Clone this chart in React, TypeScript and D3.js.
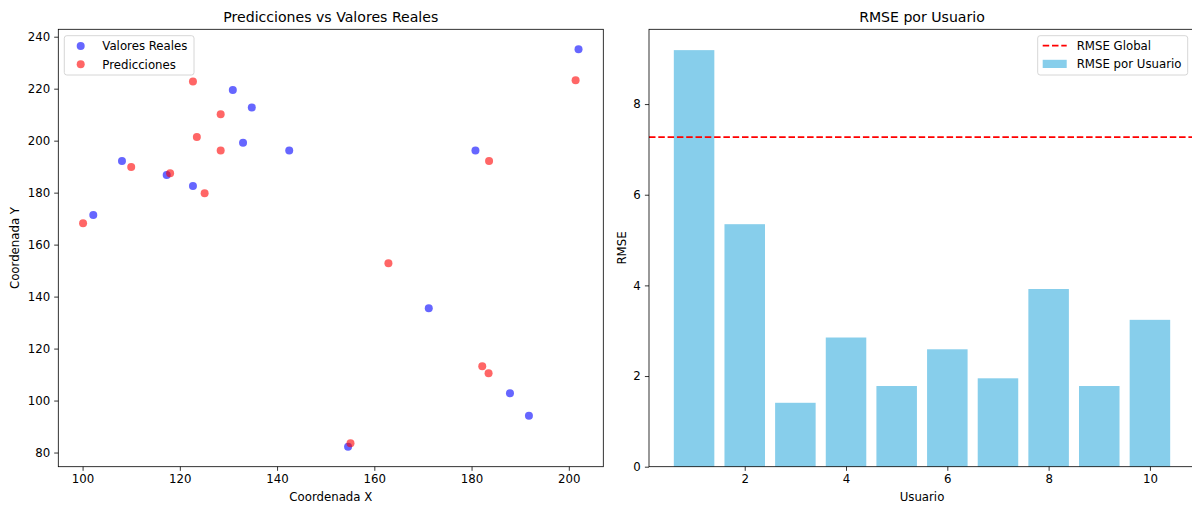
import React, { useEffect, useRef } from 'react';
import * as d3 from 'd3';

// Valores reales (azul)
const realX = [102.2, 108.1, 117.3, 122.7, 130.9, 134.8, 133.0, 142.5, 202.0, 180.8, 171.2, 187.9, 191.8, 154.6];
const realY = [171.4, 192.2, 186.8, 182.6, 219.5, 212.8, 199.2, 196.2, 235.2, 196.2, 135.5, 102.8, 94.2, 82.2];
// Predicciones (rojo)
const predX = [100.1, 110.0, 118.0, 125.1, 122.7, 128.4, 123.5, 128.4, 201.4, 183.6, 162.9, 182.2, 183.5, 155.1];
const predY = [168.2, 189.9, 187.5, 179.8, 222.8, 210.2, 201.4, 196.2, 223.2, 192.2, 152.8, 113.2, 110.5, 83.6];

const users = [1, 2, 3, 4, 5, 6, 7, 8, 9, 10];
const rmseValues = [9.19, 5.35, 1.41, 2.85, 1.78, 2.59, 1.95, 3.92, 1.78, 3.24];
const rmseGlobal = 7.27;

const scatterXTicks = [100, 120, 140, 160, 180, 200];
const scatterYTicks = [80, 100, 120, 140, 160, 180, 200, 220, 240];
const barXTicks = [2, 4, 6, 8, 10];
const barYTicks = [0, 2, 4, 6, 8];

const W = 1192;
const H = 507;
const FONT = '"DejaVu Sans", sans-serif';
const FS = 11.75;
const TITLE_FS = 14.1;
const TICK = 4.1;

// matplotlib-like 5% margins
function padded(lo: number, hi: number) {
    const m = (hi - lo) * 0.05;
    return [lo - m, hi + m];
}

export default function App() {
    const svgRef = useRef<SVGSVGElement>(null);

    useEffect(() => {
        document.body.style.margin = '0';
        if (!svgRef.current) return;
        const svg = d3.select(svgRef.current);
        svg.selectAll('*').remove();

        const top = 29.3;
        const bottom = 466.7;

        const styleAxis = (g: d3.Selection<SVGGElement, unknown, null, undefined>) => {
            g.select('.domain').remove();
            g.selectAll('text').attr('font-family', FONT).attr('font-size', FS).attr('fill', '#000');
            g.selectAll('line').attr('stroke', '#000').attr('stroke-width', 0.8);
        };

        // ---------- Scatter ----------
        const allX = realX.concat(predX);
        const allY = realY.concat(predY);
        const x1 = d3.scaleLinear()
            .domain(padded(d3.min(allX)!, d3.max(allX)!))
            .range([58.3, 603.3]);
        const y1 = d3.scaleLinear()
            .domain(padded(d3.min(allY)!, d3.max(allY)!))
            .range([bottom, top]);

        const g1 = svg.append('g');

        g1.append('g')
            .selectAll('circle.real')
            .data(realX.map((v, i) => [v, realY[i]]))
            .join('circle')
            .attr('cx', d => x1(d[0]))
            .attr('cy', d => y1(d[1]))
            .attr('r', 4)
            .attr('fill', 'blue')
            .attr('fill-opacity', 0.6);

        g1.append('g')
            .selectAll('circle.pred')
            .data(predX.map((v, i) => [v, predY[i]]))
            .join('circle')
            .attr('cx', d => x1(d[0]))
            .attr('cy', d => y1(d[1]))
            .attr('r', 4)
            .attr('fill', 'red')
            .attr('fill-opacity', 0.6);

        g1.append('g')
            .attr('transform', `translate(0,${bottom})`)
            .call(d3.axisBottom(x1).tickValues(scatterXTicks).tickSize(TICK).tickPadding(TICK).tickFormat(d3.format('d')))
            .call(styleAxis);
        g1.append('g')
            .attr('transform', `translate(58.3,0)`)
            .call(d3.axisLeft(y1).tickValues(scatterYTicks).tickSize(TICK).tickPadding(TICK).tickFormat(d3.format('d')))
            .call(styleAxis);

        g1.append('rect')
            .attr('x', 58.3).attr('y', top)
            .attr('width', 603.3 - 58.3).attr('height', bottom - top)
            .attr('fill', 'none').attr('stroke', '#000').attr('stroke-width', 0.8);

        g1.append('text')
            .attr('x', (58.3 + 603.3) / 2).attr('y', 22)
            .attr('text-anchor', 'middle')
            .attr('font-family', FONT).attr('font-size', TITLE_FS)
            .text('Predicciones vs Valores Reales');
        g1.append('text')
            .attr('x', (58.3 + 603.3) / 2).attr('y', 501)
            .attr('text-anchor', 'middle')
            .attr('font-family', FONT).attr('font-size', FS)
            .text('Coordenada X');
        g1.append('text')
            .attr('transform', `translate(19,${(top + bottom) / 2}) rotate(-90)`)
            .attr('text-anchor', 'middle')
            .attr('font-family', FONT).attr('font-size', FS)
            .text('Coordenada Y');

        // legend
        const leg1 = g1.append('g');
        leg1.append('rect')
            .attr('x', 64.3).attr('y', 35.7).attr('width', 129.7).attr('height', 39.3)
            .attr('rx', 2.5)
            .attr('fill', 'white').attr('fill-opacity', 0.8)
            .attr('stroke', '#cccccc').attr('stroke-width', 0.8);
        [['blue', 'Valores Reales', 46], ['red', 'Predicciones', 64.3]].forEach(([c, label, cy]) => {
            leg1.append('circle')
                .attr('cx', 80.7).attr('cy', cy as number).attr('r', 4)
                .attr('fill', c as string).attr('fill-opacity', 0.6);
            leg1.append('text')
                .attr('x', 102.3).attr('y', (cy as number) + 4.3)
                .attr('font-family', FONT).attr('font-size', FS)
                .text(label as string);
        });

        // ---------- Bars ----------
        const x2 = d3.scaleLinear()
            .domain(padded(d3.min(users)! - 0.4, d3.max(users)! + 0.4))
            .range([649, 1195]);
        const y2 = d3.scaleLinear()
            .domain([0, d3.max(rmseValues)! * 1.05])
            .range([bottom, top]);

        const g2 = svg.append('g');
        g2.append('g')
            .selectAll('rect')
            .data(users)
            .join('rect')
            .attr('x', (d) => x2(d - 0.4))
            .attr('width', (d) => x2(d + 0.4) - x2(d - 0.4))
            .attr('y', (d, i) => y2(rmseValues[i]))
            .attr('height', (d, i) => bottom - y2(rmseValues[i]))
            .attr('fill', 'skyblue');

        g2.append('line')
            .attr('x1', 649).attr('x2', 1195)
            .attr('y1', y2(rmseGlobal)).attr('y2', y2(rmseGlobal))
            .attr('stroke', 'red').attr('stroke-width', 1.75)
            .attr('stroke-dasharray', '6.5,2.8');

        g2.append('g')
            .attr('transform', `translate(0,${bottom})`)
            .call(d3.axisBottom(x2).tickValues(barXTicks).tickSize(TICK).tickPadding(TICK).tickFormat(d3.format('d')))
            .call(styleAxis);
        g2.append('g')
            .attr('transform', `translate(649,0)`)
            .call(d3.axisLeft(y2).tickValues(barYTicks).tickSize(TICK).tickPadding(TICK).tickFormat(d3.format('d')))
            .call(styleAxis);

        g2.append('rect')
            .attr('x', 649).attr('y', top)
            .attr('width', 1195 - 649).attr('height', bottom - top)
            .attr('fill', 'none').attr('stroke', '#000').attr('stroke-width', 0.8);

        g2.append('text')
            .attr('x', 922).attr('y', 22)
            .attr('text-anchor', 'middle')
            .attr('font-family', FONT).attr('font-size', TITLE_FS)
            .text('RMSE por Usuario');
        g2.append('text')
            .attr('x', 922).attr('y', 501)
            .attr('text-anchor', 'middle')
            .attr('font-family', FONT).attr('font-size', FS)
            .text('Usuario');
        g2.append('text')
            .attr('transform', `translate(626,${(top + bottom) / 2}) rotate(-90)`)
            .attr('text-anchor', 'middle')
            .attr('font-family', FONT).attr('font-size', FS)
            .text('RMSE');

        const leg2 = g2.append('g');
        leg2.append('rect')
            .attr('x', 1037.7).attr('y', 35.7).attr('width', 150).attr('height', 39.3)
            .attr('rx', 2.5)
            .attr('fill', 'white').attr('fill-opacity', 0.8)
            .attr('stroke', '#cccccc').attr('stroke-width', 0.8);
        leg2.append('line')
            .attr('x1', 1042.7).attr('x2', 1066.7).attr('y1', 45.7).attr('y2', 45.7)
            .attr('stroke', 'red').attr('stroke-width', 1.75)
            .attr('stroke-dasharray', '6.5,2.8');
        leg2.append('rect')
            .attr('x', 1042.7).attr('y', 59.8).attr('width', 24).attr('height', 8.2)
            .attr('fill', 'skyblue');
        leg2.append('text')
            .attr('x', 1076.7).attr('y', 50)
            .attr('font-family', FONT).attr('font-size', FS)
            .text('RMSE Global');
        leg2.append('text')
            .attr('x', 1076.7).attr('y', 68.3)
            .attr('font-family', FONT).attr('font-size', FS)
            .text('RMSE por Usuario');
    }, []);

    return (
        <svg ref={svgRef} width={W} height={H} style={{ display: 'block', background: 'white' }} />
    );
}
